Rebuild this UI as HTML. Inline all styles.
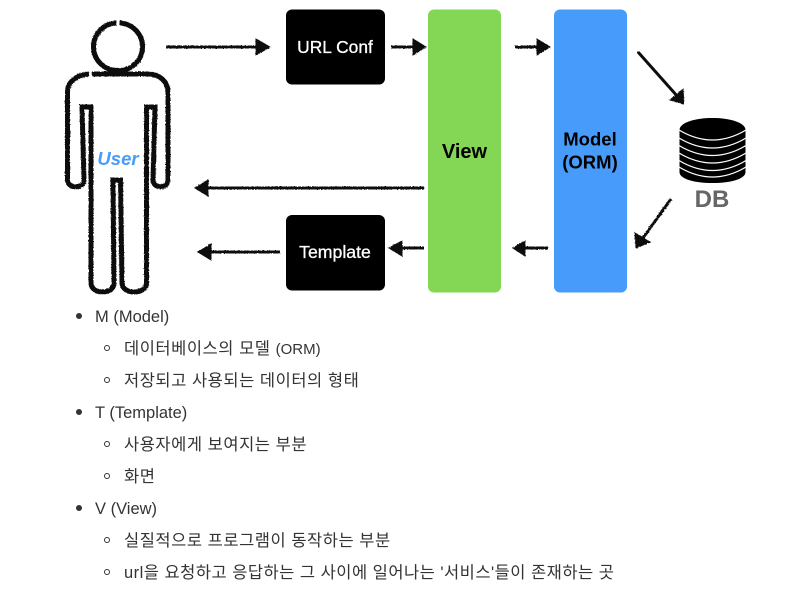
<!DOCTYPE html>
<html lang="ko"><head><meta charset="utf-8"><style>
html,body{margin:0;padding:0;background:#fff}
body{position:relative;width:795px;height:607px;overflow:hidden}
svg{position:absolute;left:0;top:0}
.t{position:absolute;white-space:nowrap;font:16.5px/20px "Liberation Sans","Noto Sans CJK KR",sans-serif;color:#333}
.k{letter-spacing:.53px}
.b{position:absolute;border-radius:50%}
.b1{width:6px;height:6px;background:#333;left:76px}
.b2{width:4px;height:4px;border:1px solid #333;left:104px}
</style></head><body>
<svg width="795" height="300" viewBox="0 0 795 300" font-family="Liberation Sans, sans-serif">
<defs><filter id="r" x="-10%" y="-10%" width="120%" height="120%"><feTurbulence type="fractalNoise" baseFrequency=".7" numOctaves="2" seed="4"/><feDisplacementMap in="SourceGraphic" scale="1.800"/></filter></defs>
<g filter="url(#r)" fill="none" stroke="#111" stroke-width="5">
<path d="M116.500 23A23.500 23.500 0 0 0 118 70.500A23.500 23.500 0 0 0 119.500 23"/>
<path d="M92 74H148C160 74 168 82 168 92V180C168 189 153 189 153 180L155 107H146.500V283C146.500 295 122 295 122 283L120.500 180H113L114 283C114 295 91 295 91 283V107H82L84 180C84 189 67.500 189 67.500 180V92C67.500 82 76 75 89 74"/>
</g>
<g filter="url(#r)" fill="#111" stroke="#111">
<path d="M166 47H258" stroke-width="3"/><path d="M256 39L270 47L256 55Z"/>
<path d="M391 47H418" stroke-width="3"/><path d="M413 39L426 47L413 55Z"/>
<path d="M515 47H542" stroke-width="3"/><path d="M537 39L550 47L537 55Z"/>
<path d="M638 52L678 97" stroke-width="3"/><path d="M670 100L683 89L684 104Z"/>
<path d="M671 199L640 242" stroke-width="3"/><path d="M635 233L650 242L636 248Z"/>
<path d="M424 188H205" stroke-width="3"/><path d="M208 180L195 188L208 196Z"/>
<path d="M280 252H210" stroke-width="3"/><path d="M211 244L198 252L211 260Z"/>
<path d="M424 248H398" stroke-width="3"/><path d="M402 241L389 248L402 256Z"/>
<path d="M548 248H522" stroke-width="3"/><path d="M525 241L513 248L525 256Z"/>
</g>
<rect x="286" y="9.500" width="99" height="75" rx="6" fill="#000"/>
<rect x="286" y="215" width="99" height="75.500" rx="6" fill="#000"/>
<rect x="428" y="9.500" width="73" height="283" rx="6" fill="#83d755"/>
<rect x="554" y="9.500" width="73" height="283" rx="6" fill="#479cfb"/>
<path d="M679.500 130C679.500 123 694 118 712.500 118C731 118 745.500 123 745.500 130V172C745.500 179 731 183 712.500 183C694 183 679.500 179 679.500 172Z" fill="#000"/>
<g fill="none" stroke="#fff" stroke-width="1.300">
<path d="M679 130Q712.500 150 746 130"/>
<path d="M679 138Q712.500 158 746 138"/>
<path d="M679 145.500Q712.500 165.500 746 145.500"/>
<path d="M679 153Q712.500 173 746 153"/>
<path d="M679 160.500Q712.500 180.500 746 160.500"/>
<path d="M679 167Q712.500 187 746 167"/>
</g>
<g text-anchor="middle" font-weight="700">
<text x="118" y="165" font-size="18.500" font-style="italic" fill="#479cfb">User</text>
<text x="335" y="53" font-size="17.400" fill="#fff" font-weight="400" stroke="#fff" stroke-width=".3">URL Conf</text>
<text x="335" y="258" font-size="17.700" fill="#fff" font-weight="400" stroke="#fff" stroke-width=".3">Template</text>
<text x="464.500" y="158" font-size="20" fill="#000">View</text>
<text x="590" y="145.500" font-size="18.500" fill="#000">Model</text>
<text x="590" y="168.500" font-size="18.500" fill="#000">(ORM)</text>
<text x="712" y="207" font-size="24" fill="#666">DB</text>
</g>
</svg>
<i class="b b1" style="top:313px"></i><div class="t" style="left:95px;top:307px">M (Model)</div>
<i class="b b2" style="top:345px"></i><div class="t k" style="left:124px;top:339px">데이터베이스의 모델 <span style="font-size:15px;letter-spacing:0">(ORM)</span></div>
<i class="b b2" style="top:377px"></i><div class="t k" style="left:124px;top:371px">저장되고 사용되는 데이터의 형태</div>
<i class="b b1" style="top:409px"></i><div class="t" style="left:95px;top:403px">T (Template)</div>
<i class="b b2" style="top:441px"></i><div class="t k" style="left:124px;top:435px">사용자에게 보여지는 부분</div>
<i class="b b2" style="top:473px"></i><div class="t k" style="left:124px;top:467px">화면</div>
<i class="b b1" style="top:505px"></i><div class="t" style="left:95px;top:499px">V (View)</div>
<i class="b b2" style="top:537px"></i><div class="t k" style="left:124px;top:531px">실질적으로 프로그램이 동작하는 부분</div>
<i class="b b2" style="top:569px"></i><div class="t k" style="left:124px;top:563px;letter-spacing:.48px">url을 요청하고 응답하는 그 사이에 일어나는 '서비스'들이 존재하는 곳</div>
</body></html>
